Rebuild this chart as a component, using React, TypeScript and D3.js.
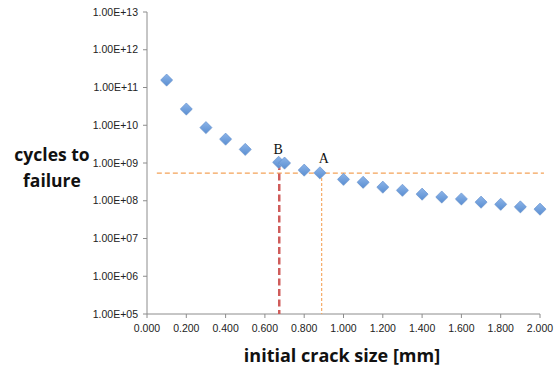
import React from "react";
import * as d3 from "d3";

const crackSize = [0.1, 0.2, 0.3, 0.4, 0.5, 0.67, 0.7, 0.8, 0.88, 1.0, 1.1, 1.2, 1.3, 1.4, 1.5, 1.6, 1.7, 1.8, 1.9, 2.0];
const cycles = [1.58e11, 2.7e10, 8.7e9, 4.3e9, 2.3e9, 1.05e9, 1.0e9, 6.5e8, 5.5e8, 3.7e8, 3.1e8, 2.3e8, 1.9e8, 1.5e8, 1.26e8, 1.12e8, 9.2e7, 8.1e7, 6.9e7, 6.0e7];
const xTicks = [0, 0.2, 0.4, 0.6, 0.8, 1.0, 1.2, 1.4, 1.6, 1.8, 2.0];
const yTicks = [1e5, 1e6, 1e7, 1e8, 1e9, 1e10, 1e11, 1e12, 1e13];
const pointA = { x: 0.889, y: 5.4e8, label: "A" };
const pointB = { x: 0.673, y: 1.0e9, label: "B" };

export default function App() {
  const W = 559, H = 373;
  const x = d3.scaleLinear().domain([0, 2]).range([147, 540]);
  const y = d3.scaleLog().domain([1e5, 1e13]).range([314, 12]);
  const axisColor = "#8c8c8c";
  const fmtY = (v: number) => {
    const e = Math.round(Math.log10(v));
    return "1.00E+" + (e < 10 ? "0" + e : String(e));
  };
  const s = 6;
  return (
    <svg width={W} height={H} style={{ position: "absolute", left: 0, top: 0 }}>
      <defs>
        <linearGradient id="mk" x1="0" y1="0" x2="0" y2="1">
          <stop offset="0" stopColor="#8cb4e8" />
          <stop offset="1" stopColor="#5b8fd2" />
        </linearGradient>
      </defs>
      <rect width={W} height={H} fill="#fff" />
      {/* axes */}
      <line x1={x(0)} x2={x(0)} y1={y(1e13)} y2={y(1e5)} stroke={axisColor} strokeWidth={1} />
      <line x1={x(0)} x2={x(2)} y1={y(1e5)} y2={y(1e5)} stroke={axisColor} strokeWidth={1} />
      {yTicks.map((t) => (
        <g key={"y" + t}>
          <line x1={x(0) - 4} x2={x(0)} y1={y(t)} y2={y(t)} stroke={axisColor} />
          <text x={x(0) - 9} y={y(t) + 3.5} textAnchor="end" fontFamily="Liberation Sans, Arial, sans-serif" fontSize={10.5} fill="#222">
            {fmtY(t)}
          </text>
        </g>
      ))}
      {xTicks.map((t) => (
        <g key={"x" + t}>
          <line x1={x(t)} x2={x(t)} y1={y(1e5)} y2={y(1e5) + 4} stroke={axisColor} />
          <text x={x(t)} y={y(1e5) + 18} textAnchor="middle" fontFamily="Liberation Sans, Arial, sans-serif" fontSize={10.5} fill="#222">
            {t.toFixed(3)}
          </text>
        </g>
      ))}
      {/* reference lines */}
      <line x1={x(0.05)} x2={x(2.02)} y1={y(pointA.y)} y2={y(pointA.y)} stroke="#f4a258" strokeWidth={1.2} strokeDasharray="5,3" />
      <line x1={x(pointA.x)} x2={x(pointA.x)} y1={y(pointA.y)} y2={y(1e5)} stroke="#f4a258" strokeWidth={1.1} strokeDasharray="3,2" />
      <line x1={x(pointB.x)} x2={x(pointB.x)} y1={y(pointB.y)} y2={y(1e5)} stroke="#cf5c5a" strokeWidth={2.5} strokeDasharray="7,3.5" />
      {/* markers */}
      {crackSize.map((c, i) => {
        const cx = x(c), cy = y(cycles[i]);
        return (
          <g key={"p" + i}>
            <path d={`M${cx},${cy - s + 1}L${cx + s},${cy + 1}L${cx},${cy + s + 1}L${cx - s},${cy + 1}Z`} fill="#b8c8dc" opacity={0.5} />
            <path d={`M${cx},${cy - s}L${cx + s},${cy}L${cx},${cy + s}L${cx - s},${cy}Z`} fill="url(#mk)" stroke="#5d8ccc" strokeWidth={0.6} />
          </g>
        );
      })}
      <text x={x(pointB.x) - 1} y={y(pointB.y) - 9} textAnchor="middle" fontFamily="Liberation Serif, Times New Roman, serif" fontSize={14} fill="#111">
        {pointB.label}
      </text>
      <text x={x(pointA.x) + 2} y={y(pointA.y) - 10} textAnchor="middle" fontFamily="Liberation Serif, Times New Roman, serif" fontSize={14} fill="#111">
        {pointA.label}
      </text>
      {/* axis titles */}
      <text x={52} y={161} textAnchor="middle" fontFamily="Open Sans, sans-serif" fontWeight="bold" fontSize={17.5} fill="#111">
        cycles to
      </text>
      <text x={52} y={187} textAnchor="middle" fontFamily="Open Sans, sans-serif" fontWeight="bold" fontSize={17.5} fill="#111">
        failure
      </text>
      <text x={342} y={362} textAnchor="middle" fontFamily="Open Sans, sans-serif" fontWeight="bold" fontSize={18} fill="#111">
        initial crack size [mm]
      </text>
    </svg>
  );
}
